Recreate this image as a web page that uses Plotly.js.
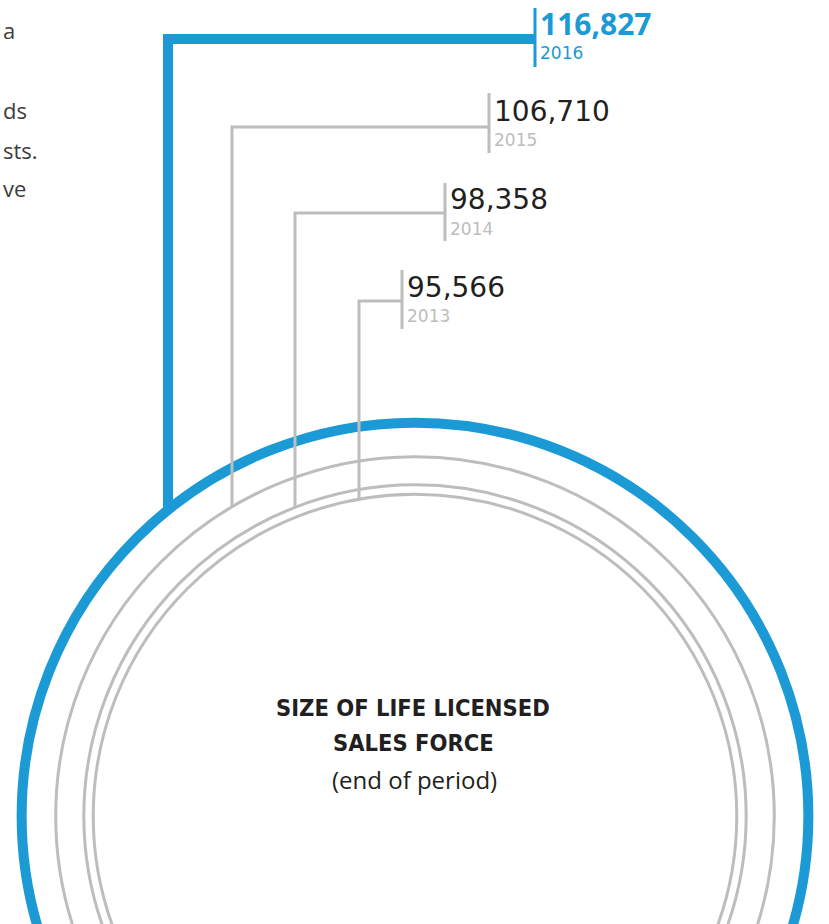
<!DOCTYPE html>
<html><head><meta charset="utf-8">
<script src="https://cdn.plot.ly/plotly-3.0.1.min.js"></script>
<style>html,body{margin:0;padding:0;background:#fff;overflow:hidden;}#chart{width:829px;height:924px;}</style>
</head><body><div id="chart"></div>
<script>
// ---- data ----
const years = ['2013', '2014', '2015', '2016'];
const salesForce = [95566, 98358, 106710, 116827];
const valueLabels = ['95,566', '98,358', '106,710', '116,827'];
const titleLines = ['SIZE OF LIFE LICENSED', 'SALES FORCE'];
const subtitle = '(end of period)';
const sideTextFragments = ['a', 'ds', 'sts.', 've'];

// ---- layout (pixels) ----
const W = 829, H = 924, CX = 415, CY = 816, U = 297; // units per pixel
const connX = [359, 295, 232, 168];
const elbowY = [301, 213, 127, 39];
const tickX = [402, 445, 489, 535];
const tickTop = [270, 183, 93, 8];
const tickBot = [329, 241, 153, 67];
const numY = [287, 199, 111.5, 23];
const yearY = [316, 229, 140, 53];
const fragY = [30, 110, 150, 188];

const BLUE = '#1b9ad6', GRAY = '#bdbdbd', INK = '#231f20';
const px2x = p => (p - CX) * U;
const py2y = p => (CY - p) * U;
const hi = i => i === salesForce.length - 1;

const traces = [];
const shapes = [];
const annotations = [];

salesForce.forEach((v, i) => {
  const col = hi(i) ? BLUE : GRAY;
  const lw = hi(i) ? 10 : 3;
  shapes.push({type: 'circle', xref: 'x', yref: 'y', layer: 'below',
    x0: -v, x1: v, y0: -v, y1: v, line: {color: col, width: lw}});
  const xc = px2x(connX[i]);
  traces.push({type: 'scatter', mode: 'lines', hoverinfo: 'skip',
    x: [xc, xc, px2x(tickX[i])],
    y: [Math.sqrt(v * v - xc * xc), py2y(elbowY[i]), py2y(elbowY[i])],
    line: {color: col, width: lw}});
  traces.push({type: 'scatter', mode: 'lines', hoverinfo: 'skip',
    x: [px2x(tickX[i]), px2x(tickX[i])],
    y: [py2y(tickTop[i]), py2y(tickBot[i])],
    line: {color: col, width: 3}});
  annotations.push({x: px2x(tickX[i] + 3), y: py2y(numY[i]), xref: 'x', yref: 'y',
    xanchor: 'left', yanchor: 'middle', showarrow: false, text: valueLabels[i],
    font: hi(i) ? {family: 'Open Sans', size: 30, color: BLUE, weight: 700}
                : {family: 'DejaVu Sans', size: 28, color: INK}});
  annotations.push({x: px2x(tickX[i] + 3), y: py2y(yearY[i]), xref: 'x', yref: 'y',
    xanchor: 'left', yanchor: 'middle', showarrow: false, text: years[i],
    font: {family: 'DejaVu Sans', size: 17, color: col}});
});

titleLines.forEach((t, j) => {
  annotations.push({x: px2x(413), y: py2y([707.5, 743][j]), xref: 'x', yref: 'y',
    xanchor: 'center', yanchor: 'middle', showarrow: false, text: '<b>' + t + '</b>',
    font: {family: 'DejaVu Sans Condensed, sans-serif', size: 23.5, color: INK}});
});
annotations.push({x: px2x(414), y: py2y(779), xref: 'x', yref: 'y',
  xanchor: 'center', yanchor: 'middle', showarrow: false, text: subtitle,
  font: {family: 'Open Sans', size: 24, color: INK}});

sideTextFragments.forEach((t, j) => {
  annotations.push({x: px2x(1), y: py2y(fragY[j]), xref: 'x', yref: 'y',
    xanchor: 'left', yanchor: 'middle', showarrow: false, text: t,
    font: {family: 'Open Sans', size: 22, color: '#3d3d3d'}});
});

const layout = {
  width: W, height: H, margin: {l: 0, r: 0, t: 0, b: 0, pad: 0},
  paper_bgcolor: '#fff', plot_bgcolor: '#fff', showlegend: false,
  xaxis: {range: [px2x(0), px2x(W)], visible: false, fixedrange: true},
  yaxis: {range: [py2y(H), py2y(0)], visible: false, fixedrange: true},
  shapes: shapes, annotations: annotations
};
Plotly.newPlot('chart', traces, layout, {staticPlot: true, displayModeBar: false});
</script></body></html>
